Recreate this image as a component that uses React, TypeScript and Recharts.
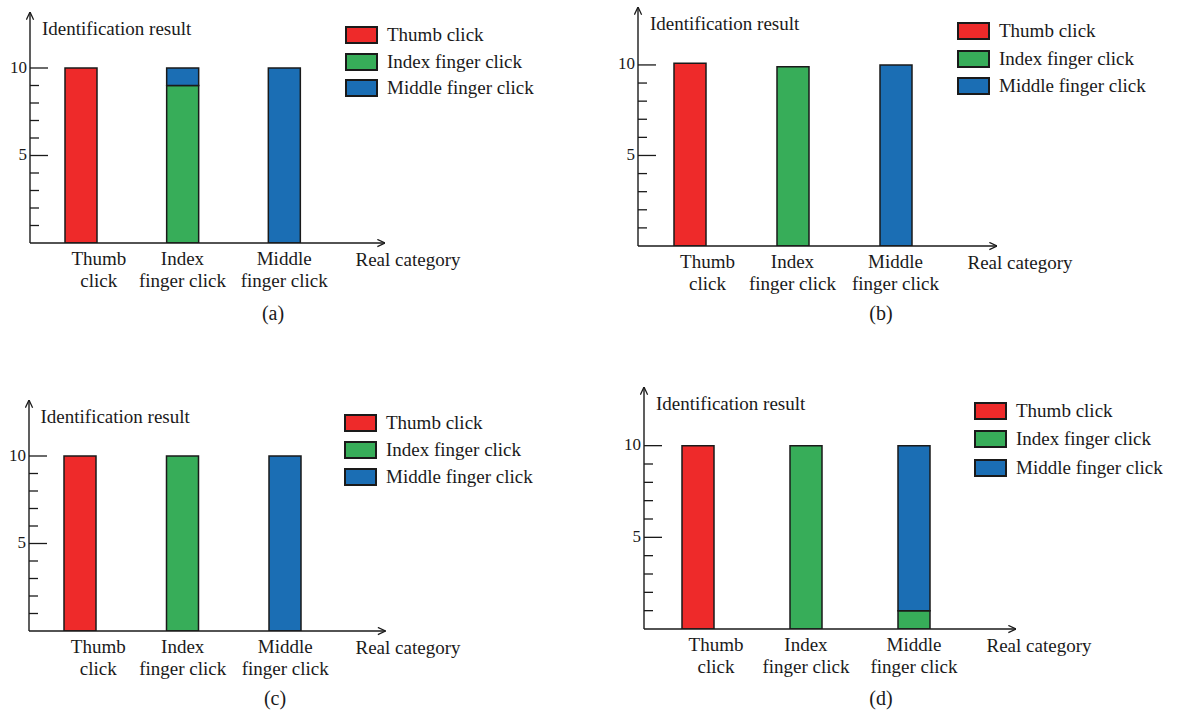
import React from 'react';
import { BarChart, Bar, XAxis, YAxis, Legend } from 'recharts';

// ---------- data ----------
const categories = ['Thumb click', 'Index finger click', 'Middle finger click'];
const categoryLines: string[][] = [
  ['Thumb', 'click'],
  ['Index', 'finger click'],
  ['Middle', 'finger click'],
];
const seriesNames = ['Thumb click', 'Index finger click', 'Middle finger click'];
const yTicks = [1, 2, 3, 4, 5, 6, 7, 8, 9, 10];
const yLabelledTicks = [5, 10];
const captions = ['(a)', '(b)', '(c)', '(d)'];
const yTitle = 'Identification result';
const xTitle = 'Real category';

// panel (a)
const aThumb = [10, 0, 0];
const aIndex = [0, 9, 0];
const aMiddle = [0, 1, 10];
// panel (b)
const bThumb = [10.1, 0, 0];
const bIndex = [0, 9.9, 0];
const bMiddle = [0, 0, 10];
// panel (c)
const cThumb = [10, 0, 0];
const cIndex = [0, 10, 0];
const cMiddle = [0, 0, 10];
// panel (d)
const dThumb = [10, 0, 0];
const dIndex = [0, 10, 1];
const dMiddle = [0, 0, 9];

const panelSeries = [
  [aThumb, aIndex, aMiddle],
  [bThumb, bIndex, bMiddle],
  [cThumb, cIndex, cMiddle],
  [dThumb, dIndex, dMiddle],
];

// ---------- style ----------
const RED = '#EE2A2A';
const GREEN = '#37AD59';
const BLUE = '#1B6EB4';
const COLORS = [RED, GREEN, BLUE];
const KEYS = ['thumb', 'index', 'middle'];
const FONT = '"Liberation Serif", "DejaVu Serif", serif';
const INK = '#1a1a1a';
const THUMB_LABEL_SHIFT = 18;
const YW = 30;
const MT = 4;
const MR = 14;
const XH = 60;
const Y_MAX = 13.2;

const layouts = [
  { yAxisX: 30, axisTop: 12, xAxisY: 243, xEnd: 385, padRight: 50, legendX: 345, legendY: 35, legendGap: 26.5, captionX: 273, captionY: 313 },
  { yAxisX: 638, axisTop: 7, xAxisY: 246, xEnd: 997, padRight: 50, legendX: 957, legendY: 31, legendGap: 27.5, captionX: 881, captionY: 313 },
  { yAxisX: 28.5, axisTop: 400, xAxisY: 631, xEnd: 385, padRight: 49, legendX: 344, legendY: 423, legendGap: 27, captionX: 275, captionY: 698 },
  { yAxisX: 644, axisTop: 387, xAxisY: 629, xEnd: 1016, padRight: 48, legendX: 974, legendY: 411, legendGap: 28.3, captionX: 881, captionY: 698 },
];

const YTick = (props: any) => {
  const { x, y, payload } = props;
  const v = payload.value;
  const major = yLabelledTicks.includes(v);
  return (
    <g>
      <line x1={x} x2={x + (major ? 18 : 9)} y1={y} y2={y} stroke={INK} strokeWidth={1.3} />
      {major && (
        <text x={x - 3} y={y - 1} textAnchor="end" dominantBaseline="central" style={{ fontFamily: FONT }} fontSize={17} fill={INK}>
          {v}
        </text>
      )}
    </g>
  );
};

const XTick = (props: any) => {
  const { x, y, payload } = props;
  const idx = categories.indexOf(payload.value);
  const lines = categoryLines[idx] || [payload.value];
  const cx = x + (idx === 0 ? THUMB_LABEL_SHIFT : 0);
  return (
    <text textAnchor="middle" style={{ fontFamily: FONT }} fontSize={19} fill={INK}>
      {lines.map((l, i) => (
        <tspan key={i} x={cx} y={y + 15.5 + i * 21.5} dominantBaseline="central">
          {l}
        </tspan>
      ))}
    </text>
  );
};

function Panel({ idx }: { idx: number }) {
  const L = layouts[idx];
  const [T, I, M] = panelSeries[idx];
  const data = categories.map((c, i) => ({ category: c, thumb: T[i], index: I[i], middle: M[i] }));
  const chartLeft = L.yAxisX - YW;
  const chartTop = L.axisTop - MT;
  const width = YW + (L.xEnd - L.yAxisX) + MR;
  const height = MT + (L.xAxisY - L.axisTop) + XH;
  const mid = `arrow${idx}`;

  const legendContent = (p: any) => {
    const items = [...(p.payload || [])].sort(
      (a: any, b: any) => seriesNames.indexOf(a.value) - seriesNames.indexOf(b.value)
    );
    return (
      <div style={{ fontFamily: FONT, fontSize: 19, color: INK }}>
        {items.map((e: any, i: number) => (
          <div key={i} style={{ height: L.legendGap, display: 'flex', alignItems: 'center', whiteSpace: 'nowrap' }}>
            <div style={{ width: 33, height: 18, boxSizing: 'border-box', border: `2px solid ${INK}`, background: e.color, marginRight: 9 }} />
            <span>{e.value}</span>
          </div>
        ))}
      </div>
    );
  };

  const textStyle: React.CSSProperties = { position: 'absolute', fontFamily: FONT, fontSize: 19, color: INK, whiteSpace: 'nowrap', lineHeight: 1 };

  return (
    <>
      <div style={{ position: 'absolute', left: chartLeft, top: chartTop }}>
        <BarChart
          width={width}
          height={height}
          data={data}
          margin={{ top: MT, right: MR, left: 0, bottom: 0 }}
          barSize={32}
          style={{ overflow: 'visible' }}
        >
          <defs>
            <marker id={mid} viewBox="0 0 10 10" refX="9.5" refY="5" markerWidth="9" markerHeight="9" markerUnits="userSpaceOnUse" orient="auto-start-reverse">
              <path d="M1,1 L9.5,5 L1,9" fill="none" stroke={INK} strokeWidth={1.4} />
            </marker>
          </defs>
          <XAxis
            dataKey="category"
            height={XH}
            padding={{ left: 0, right: L.padRight }}
            tickLine={false}
            tickSize={0}
            tickMargin={0}
            interval={0}
            axisLine={{ stroke: INK, strokeWidth: 1.4, markerEnd: `url(#${mid})` }}
            tick={<XTick />}
          />
          <YAxis
            width={YW}
            domain={[0, Y_MAX]}
            ticks={yTicks}
            allowDataOverflow
            tickLine={false}
            tickSize={0}
            tickMargin={0}
            interval={0}
            axisLine={{ stroke: INK, strokeWidth: 1.4, markerStart: `url(#${mid})` }}
            tick={<YTick />}
          />
          <Legend
            layout="vertical"
            align="center"
            verticalAlign="middle"
            content={legendContent}
            wrapperStyle={{ position: 'absolute', left: L.legendX - chartLeft, top: L.legendY - L.legendGap / 2 - chartTop, width: 'auto', height: 'auto' }}
          />
          {KEYS.map((k, i) => (
            <Bar
              key={k}
              dataKey={k}
              name={seriesNames[i]}
              stackId="s"
              fill={COLORS[i]}
              stroke={INK}
              strokeWidth={1.5}
              isAnimationActive={false}
            />
          ))}
        </BarChart>
      </div>
      <div style={{ ...textStyle, left: L.yAxisX + 12, top: L.axisTop + 15.5, transform: 'translateY(-50%)' }}>{yTitle}</div>
      <div style={{ ...textStyle, left: L.xEnd + 23, top: L.xAxisY + 15.5, transform: 'translate(-50%, -50%)' }}>{xTitle}</div>
      <div style={{ ...textStyle, fontSize: 20, left: L.captionX, top: L.captionY, transform: 'translate(-50%, -50%)' }}>{captions[idx]}</div>
    </>
  );
}

export default function App() {
  return (
    <div style={{ position: 'absolute', left: 0, top: 0, width: 1180, height: 713, background: '#fff', overflow: 'hidden' }}>
      {[0, 1, 2, 3].map((i) => (
        <Panel key={i} idx={i} />
      ))}
    </div>
  );
}
